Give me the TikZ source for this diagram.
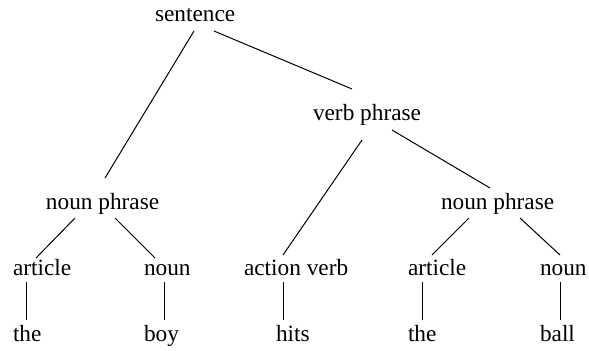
\documentclass[tikz,border=0pt]{standalone}
\usepackage{fontspec}
\setmainfont{Liberation Serif}
\begin{document}
\begin{tikzpicture}[x=0.5pt,y=-0.5pt,
  lbl/.style={anchor=base west,inner sep=0pt,outer sep=0pt,font=\fontsize{11.65}{14}\selectfont},
  edge/.style={draw=black,line width=0.5pt}]
\useasboundingbox (0,0) rectangle (589,350);
\node[lbl] (s)    at (155,21)  {sentence};
\node[lbl] (vp)   at (313,120) {verb phrase};
\node[lbl] (np1)  at (46,209)  {noun phrase};
\node[lbl] (np2)  at (441,209) {noun phrase};
\node[lbl] (art1) at (13,275)  {article};
\node[lbl] (n1)   at (144,275) {noun};
\node[lbl] (av)   at (244,275) {action verb};
\node[lbl] (art2) at (408,275) {article};
\node[lbl] (n2)   at (540,275) {noun};
\node[lbl] (the1) at (13,341)  {the};
\node[lbl] (boy)  at (144,341) {boy};
\node[lbl] (hits) at (276,341) {hits};
\node[lbl] (the2) at (408,341) {the};
\node[lbl] (ball) at (540,341) {ball};
\draw[edge] ([shift={(39,10)}]s.base west) -- ([shift={(59,-31)}]np1.base west);
\draw[edge] ([shift={(59,10)}]s.base west) -- ([shift={(39,-31)}]vp.base west);
\draw[edge] ([shift={(49,20)}]vp.base west) -- ([shift={(39,-20)}]av.base west);
\draw[edge] ([shift={(79,10)}]vp.base west) -- ([shift={(49,-21)}]np2.base west);
\draw[edge] ([shift={(29,9)}]np1.base west) -- ([shift={(23,-17)}]art1.base west);
\draw[edge] ([shift={(69,9)}]np1.base west) -- ([shift={(11,-17)}]n1.base west);
\draw[edge] ([shift={(28,9)}]np2.base west) -- ([shift={(24,-20)}]art2.base west);
\draw[edge] ([shift={(79,9)}]np2.base west) -- ([shift={(20,-20)}]n2.base west);
\draw[edge] ([shift={(13,7)}]art1.base west) -- ([shift={(13,-21)}]the1.base west);
\draw[edge] ([shift={(20,7)}]n1.base west) -- ([shift={(20,-21)}]boy.base west);
\draw[edge] ([shift={(39,7)}]av.base west) -- ([shift={(7,-21)}]hits.base west);
\draw[edge] ([shift={(14,7)}]art2.base west) -- ([shift={(14,-21)}]the2.base west);
\draw[edge] ([shift={(20,7)}]n2.base west) -- ([shift={(20,-21)}]ball.base west);
\end{tikzpicture}
\end{document}
